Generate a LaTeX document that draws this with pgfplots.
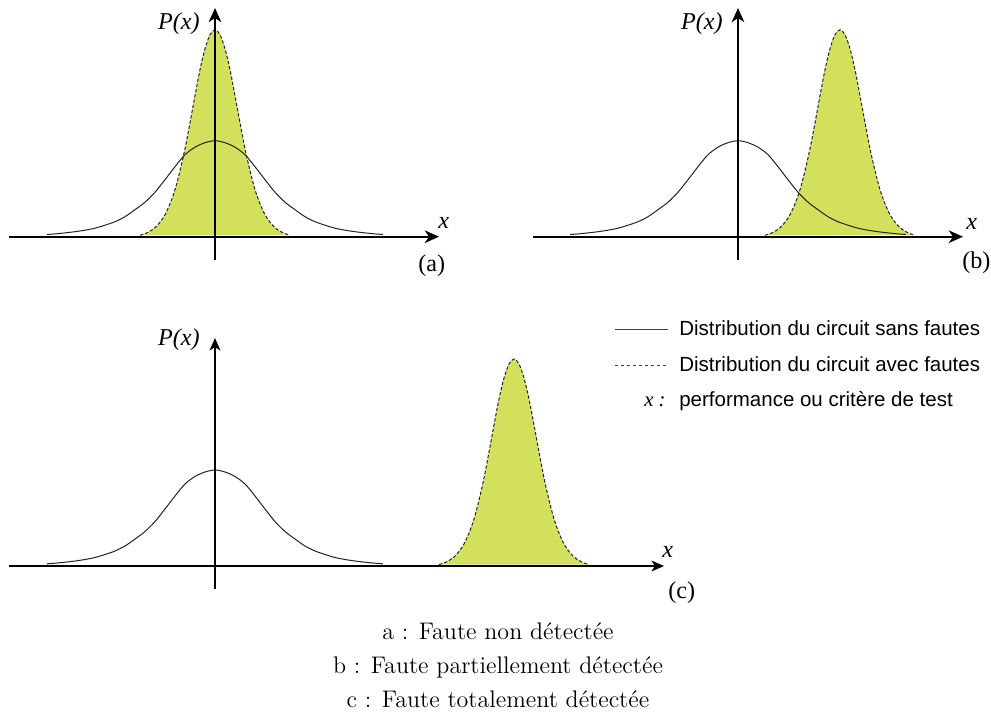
\documentclass[border=0pt]{standalone}
\usepackage{fontspec}
\usepackage{pgfplots}
\usepackage{pgfplotstable}
\pgfplotsset{compat=1.18}
\usetikzlibrary{arrows.meta}
\newfontfamily\tim{Liberation Serif}
\newfontfamily\ari{Liberation Sans}
\definecolor{fillc}{RGB}{211,224,92}
\definecolor{curv}{RGB}{35,35,35}

\pgfplotstableread{
d h
-168 2.2
-160 2.8
-150 3.8
-140 5
-130 6.5
-120 8.5
-110 11.5
-100 15
-90 20
-80 27
-70 34.5
-60 44.5
-50 57
-40 70
-30 82
-20 89.5
-10 94
0 96
10 94
20 89.5
30 82
40 70
50 57
60 44.5
70 34.5
80 27
90 20
100 15
110 11.5
120 8.5
130 6.5
140 5
150 3.8
160 2.8
168 2.2
}\solid

\pgfplotstableread{
d h
-75 1.5
-70 3
-65 5.5
-60 9
-55 14.5
-50 22
-45 33
-40 47
-35 66
-30 88
-25 114
-20 141
-15 167
-10 188
-5 202
0 207
5 202
10 188
15 167
20 141
25 114
30 88
35 66
40 47
45 33
50 22
55 14.5
60 9
65 5.5
70 3
75 1.5
}\dashA

\pgfplotstableread{
d h
27 1.5
32 3
37 5.5
42 9
47 14.5
52 22
57 33
62 47
67 66
72 88
77 114
82 141
87 167
92 188
97 202
102 207
107 202
112 188
117 167
122 141
127 114
132 88
137 66
142 47
147 33
152 22
157 14.5
162 9
167 5.5
172 3
177 1.5
}\dashB

\pgfplotstableread{
d h
224 1.5
229 3
234 5.5
239 9
244 14.5
249 22
254 33
259 47
264 66
269 88
274 114
279 141
284 167
289 188
294 202
299 207
304 202
309 188
314 167
319 141
324 114
329 88
334 66
339 47
344 33
349 22
354 14.5
359 9
364 5.5
369 3
374 1.5
}\dashC

\pgfplotsset{
  panel/.style={
    x=0.6pt, y=0.6pt,
    axis lines=middle,
    xtick=\empty, ytick=\empty,
    clip=false, axis on top,
    anchor=south west,
    axis line style={line width=1.3pt},
    every inner x axis line/.append style={-{Stealth[length=8.5pt,width=7.5pt,inset=2.5pt]}},
    every inner y axis line/.append style={-{Stealth[length=8.5pt,width=7.5pt,inset=2.5pt]}},
  },
  solidc/.style={curv, line width=0.6pt, smooth},
  dashc/.style={curv, line width=0.6pt, smooth, dash pattern=on 2pt off 1.2pt},
  fillp/.style={draw=none, fill=fillc, smooth},
}
\newcommand{\lblfont}{\tim\itshape\fontsize{14.5}{16}\selectfont}
\newcommand{\tagfont}{\tim\fontsize{14.5}{16}\selectfont}

\begin{document}
\begin{tikzpicture}
% Panel (a)
\begin{axis}[panel, at={(5.4pt,273.6pt)}, xmin=-206, xmax=224, ymin=-23.3, ymax=228.7]
\addplot[fillp] table {\dashA};
\addplot[dashc] table {\dashA};
\addplot[solidc] table {\solid};
\node[anchor=base east, font=\lblfont, inner sep=0] at (axis cs:-15,206.7) {P(x)};
\node[anchor=base west, font=\lblfont, inner sep=0] at (axis cs:223,8.7) {x};
\node[anchor=base west, font=\tagfont, inner sep=0] at (axis cs:203,-34.3) {(a)};
\end{axis}
% Panel (b)
\begin{axis}[panel, at={(319.8pt,273.6pt)}, xmin=-205, xmax=225, ymin=-23.3, ymax=228.7]
\addplot[fillp] table {\dashB};
\addplot[dashc] table {\dashB};
\addplot[solidc] table {\solid};
\node[anchor=base east, font=\lblfont, inner sep=0] at (axis cs:-15,206.7) {P(x)};
\node[anchor=base west, font=\lblfont, inner sep=0] at (axis cs:228,7.7) {x};
\node[anchor=base west, font=\tagfont, inner sep=0] at (axis cs:224,-31.3) {(b)};
\end{axis}
% Panel (c)
\begin{axis}[panel, at={(5.4pt,76.2pt)}, xmin=-206, xmax=449, ymin=-23, ymax=228,
  axis line style={line width=1pt},
  every inner x axis line/.append style={-{Stealth[length=7.5pt,width=6.5pt,inset=2pt]}},
  every inner y axis line/.append style={-{Stealth[length=7.5pt,width=6.5pt,inset=2pt]}}]
\addplot[fillp] table {\dashC};
\addplot[dashc] table {\dashC};
\addplot[solidc] table {\solid};
\node[anchor=base east, font=\lblfont, inner sep=0] at (axis cs:-15,221) {P(x)};
\node[anchor=base west, font=\lblfont, inner sep=0] at (axis cs:447,9) {x};
\node[anchor=base west, font=\tagfont, inner sep=0] at (axis cs:453,-32) {(c)};
\end{axis}
% Legend
\draw[line width=0.6pt, black!75] (369pt,232.2pt) -- (400.8pt,232.2pt);
\draw[line width=0.6pt, black!75, dash pattern=on 2pt off 1.6pt] (369pt,210.6pt) -- (400.8pt,210.6pt);
\node[anchor=base west, font=\ari\fontsize{12.3}{14}\selectfont, inner sep=0] at (407.4pt,228.6pt) {Distribution du circuit sans fautes};
\node[anchor=base west, font=\ari\fontsize{12.3}{14}\selectfont, inner sep=0] at (407.4pt,207pt) {Distribution du circuit avec fautes};
\node[anchor=base west, font=\ari\fontsize{12.3}{14}\selectfont, inner sep=0] at (407.4pt,186pt) {performance ou critère de test};
\node[anchor=base east, font=\tim\itshape\fontsize{12.5}{14}\selectfont, inner sep=0] at (399.6pt,186pt) {x :};
% Captions
\node[anchor=base, font=\fontsize{14.4}{17}\selectfont, inner sep=0] at (298.8pt,46.2pt) {a : Faute non détectée};
\node[anchor=base, font=\fontsize{14.4}{17}\selectfont, inner sep=0] at (298.8pt,25.8pt) {b : Faute partiellement détectée};
\node[anchor=base, font=\fontsize{14.4}{17}\selectfont, inner sep=0] at (298.8pt,5.1pt) {c : Faute totalement détectée};
\pgfresetboundingbox
\path (0,0) rectangle (594.6pt,429.6pt);
\end{tikzpicture}
\end{document}
